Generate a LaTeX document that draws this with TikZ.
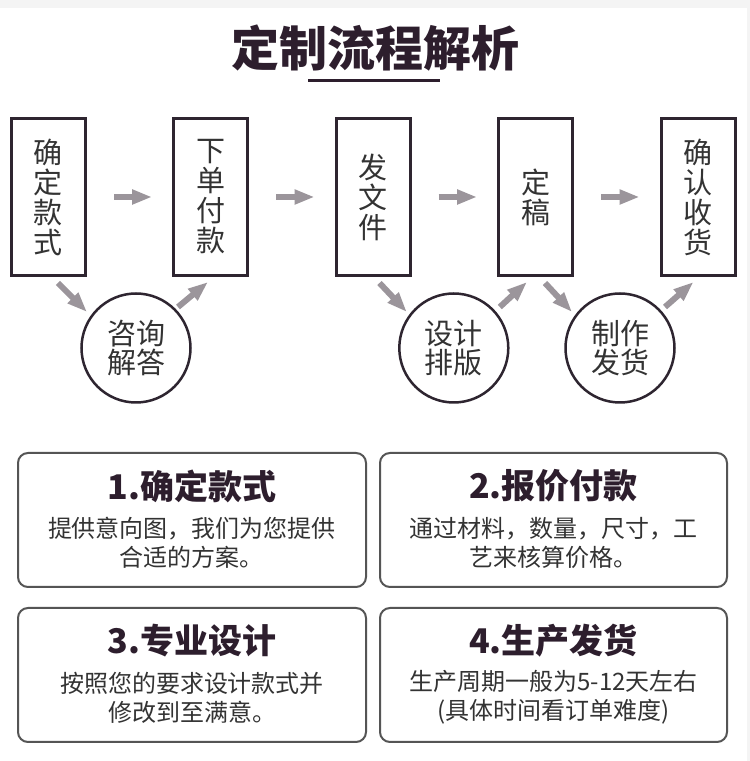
\documentclass[tikz,border=0pt]{standalone}
\usepackage{fontspec}
\setmainfont{Noto Sans CJK SC}
\newfontfamily\blackfont{Noto Sans CJK SC Black}
\usetikzlibrary{arrows.meta}
\definecolor{titlec}{HTML}{2D1E2D}
\definecolor{linec}{HTML}{2E2530}
\definecolor{arrowc}{HTML}{9B959B}
\definecolor{cardc}{HTML}{555555}
\definecolor{textc}{HTML}{333333}
\definecolor{stripc}{HTML}{F4F4F4}
\tikzset{
  stepbox/.style={draw=linec, line width=3pt, minimum width=74pt, minimum height=157pt, inner sep=0pt,
    align=center, text=textc, font=\fontsize{29}{30}\selectfont},
  stepcirc/.style={draw=linec, circle, line width=2.5pt, minimum size=109pt, inner sep=0pt,
    align=center, text=textc, font=\fontsize{29}{29}\selectfont},
  arr/.style={draw=arrowc, line width=6pt, -{Triangle[length=20pt,width=14pt]}},
  harr/.style={arr, shorten <=27pt, shorten >=20pt},
  card/.style={draw=cardc, line width=2pt, rounded corners=10pt, minimum height=134pt, inner sep=0pt},
  cardtitle/.style={text=titlec, font=\fontsize{34}{34}\selectfont\blackfont, inner sep=0pt},
  cardbody/.style={text=textc, align=center, font=\fontsize{24}{29}\selectfont, inner sep=0pt},
}
\begin{document}
\begin{tikzpicture}[x=1pt,y=1pt]
\useasboundingbox (0,0) rectangle (750,761);
\fill[white] (0,0) rectangle (750,761);
\fill[stripc] (0,753) rectangle (750,761);
\fill[stripc] (747,0) rectangle (750,753);

% title
\node[text=titlec, font=\fontsize{48}{48}\selectfont\blackfont, inner sep=0pt] (title) at (375,712.5) {定制流程解析};
\coordinate (ulL) at (308,680.5);
\coordinate (ulR) at (440,680.5);
\draw[titlec, line width=2.5pt] (ulL) -- (ulR);

% step boxes
\node[stepbox] (b1) at (48.5,564) {确\\定\\款\\式};
\node[stepbox] (b2) at (210.5,564) {下\\单\\付\\款};
\node[stepbox] (b3) at (373,564) {发\\文\\件};
\node[stepbox] (b4) at (535.5,564) {定\\稿};
\node[stepbox] (b5) at (698,564) {确\\认\\收\\货};

% circles
\node[stepcirc] (c1) at (136,413) {咨询\\解答};
\node[stepcirc] (c2) at (453.8,413) {设计\\排版};
\node[stepcirc] (c3) at (620,413) {制作\\发货};

% horizontal arrows
\draw[harr] (b1) -- (b2);
\draw[harr] (b2) -- (b3);
\draw[harr] (b3) -- (b4);
\draw[harr] (b4) -- (b5);

% diagonal arrows
\draw[arr] ([shift={(-29,-6)}]b1.south east) -- ([shift={(-49,36)}]c1.center);
\draw[arr] ([shift={(42,41)}]c1.center) -- ([shift={(36,-5)}]b2.south west);
\draw[arr] ([shift={(-32,-6)}]b3.south east) -- ([shift={(-47,36)}]c2.center);
\draw[arr] ([shift={(46,41)}]c2.center) -- ([shift={(30,-5)}]b4.south west);
\draw[arr] ([shift={(-29,-6)}]b4.south east) -- ([shift={(-48,36)}]c3.center);
\draw[arr] ([shift={(45,41)}]c3.center) -- ([shift={(34,-5)}]b5.south west);

% cards
\node[card, minimum width=348pt] (k1) at (192,241) {};
\node[card, minimum width=347pt] (k2) at (553.5,241) {};
\node[card, minimum width=348pt] (k3) at (192,86) {};
\node[card, minimum width=347pt] (k4) at (553.5,86) {};

\node[cardtitle] (t1) at ([yshift=-34pt]k1.north) {1.确定款式};
\node[cardtitle] (t2) at ([yshift=-34pt]k2.north) {2.报价付款};
\node[cardtitle] (t3) at ([yshift=-34pt]k3.north) {3.专业设计};
\node[cardtitle] (t4) at ([yshift=-34pt]k4.north) {4.生产发货};

\node[cardbody] (d1) at ([yshift=-90.5pt]k1.north) {提供意向图，我们为您提供\\合适的方案。};
\node[cardbody] (d2) at ([yshift=-90.5pt]k2.north) {通过材料，数量，尺寸，工\\艺来核算价格。};
\node[cardbody] (d3) at ([yshift=-90.5pt]k3.north) {按照您的要求设计款式并\\修改到至满意。};
\node[cardbody] (d4) at ([yshift=-90.5pt]k4.north) {生产周期一般为5-12天左右\\(具体时间看订单难度)};
\end{tikzpicture}
\end{document}
